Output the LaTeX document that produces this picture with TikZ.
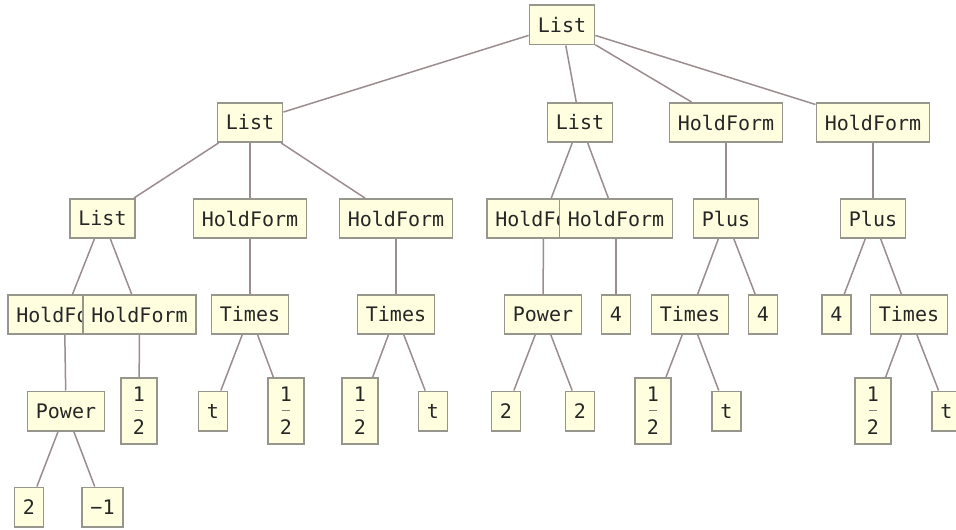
\documentclass[tikz,border=0pt]{standalone}
\usepackage{fontspec}
\newfontfamily\treefont{DejaVu Sans Mono}
\usetikzlibrary{positioning}
\definecolor{boxfill}{RGB}{255,255,224}
\definecolor{boxline}{RGB}{150,150,140}
\definecolor{edgeline}{RGB}{155,140,142}
\tikzset{
    tnode/.style={draw=boxline,fill=boxfill,line width=0.9pt,text=black!85,
        font=\treefont\fontsize{10}{12}\selectfont,
        inner xsep=4.2pt,inner ysep=0pt,minimum height=19.6pt},
    fracnode/.style={tnode,align=center,minimum width=18pt,minimum height=33pt,
        font=\treefont\fontsize{10}{8.35}\selectfont},
    branch/.style={draw=edgeline,line width=0.75pt}
}
\newcommand\halfstack{1\\\textcolor{gray}{\rule[3.6pt]{4pt}{0.6pt}}\\2}

\begin{document}
\begin{tikzpicture}[x=0.5pt,y=-0.5pt]
            \useasboundingbox (0,0) rectangle (956,529);
            % level 0 and 1
            \node[tnode] (root) at (562,25)    {List};
            \node[tnode] (l1)   at (250,122.5) {List};
            \node[tnode] (l2)   at (580,122.5) {List};
            \node[tnode] (hf3)  at (726,122.5) {HoldForm};
            \node[tnode] (hf4)  at (873,122.5) {HoldForm};
            % level 2
            \node[tnode] (l2a)   at (102.5,218.5) {List};
            \node[tnode] (hfA)   at (250,218.5)   {HoldForm};
            \node[tnode] (hfB)   at (396,218.5)   {HoldForm};
            \node[tnode] (hfC)   at (543.5,218.5) {HoldForm};
            \node[tnode] (hfD)   at (616,218.5)   {HoldForm};
            \node[tnode] (plusA) at (726,218.5)   {Plus};
            \node[tnode] (plusB) at (873,218.5)   {Plus};
            % level 3
            \node[tnode] (hfE)    at (64.5,314.5)  {HoldForm};
            \node[tnode] (hfF)    at (139.5,314.5) {HoldForm};
            \node[tnode] (timesA) at (250,314.5)   {Times};
            \node[tnode] (timesB) at (396,314.5)   {Times};
            \node[tnode] (powB)   at (543,314.5)   {Power};
            \node[tnode] (fourA)  at (616,314.5)   {4};
            \node[tnode] (timesC) at (690,314.5)   {Times};
            \node[tnode] (fourB)  at (763,314.5)   {4};
            \node[tnode] (fourC)  at (836.5,314.5) {4};
            \node[tnode] (timesD) at (909,314.5)   {Times};
            % level 4
            \node[tnode]    (powA)  at (66,411)    {Power};
            \node[fracnode] (halfA) at (139,411)   {\halfstack};
            \node[tnode]    (tA)    at (213,411)   {t};
            \node[fracnode] (halfB) at (286,411)   {\halfstack};
            \node[fracnode] (halfC) at (360,411)   {\halfstack};
            \node[tnode]    (tB)    at (433,411)   {t};
            \node[tnode]    (twoA)  at (506,411)   {2};
            \node[tnode]    (twoB)  at (580,411)   {2};
            \node[fracnode] (halfD) at (653,411)   {\halfstack};
            \node[tnode]    (tC)    at (726.5,411) {t};
            \node[fracnode] (halfE) at (873,411)   {\halfstack};
            \node[tnode]    (tD)    at (946.5,411) {t};
            % level 5
            \node[tnode] (twoC)  at (29,507)    {2};
            \node[tnode] (minus) at (102.5,507) {−1};
            \path[branch]
                (root)   edge (l1)  edge (l2)  edge (hf3)  edge (hf4)
                (l1)     edge (l2a) edge (hfA) edge (hfB)
                (l2)     edge (hfC) edge (hfD)
                (hf3)    edge (plusA)
                (hf4)    edge (plusB)
                (l2a)    edge (hfE) edge (hfF)
                (hfA)    edge (timesA)
                (hfB)    edge (timesB)
                (hfC)    edge (powB)
                (hfD)    edge (fourA)
                (plusA)  edge (timesC) edge (fourB)
                (plusB)  edge (fourC)  edge (timesD)
                (hfE)    edge (powA)
                (hfF)    edge (halfA)
                (timesA) edge (tA)    edge (halfB)
                (timesB) edge (halfC) edge (tB)
                (powB)   edge (twoA)  edge (twoB)
                (timesC) edge (halfD) edge (tC)
                (timesD) edge (halfE) edge (tD)
                (powA)   edge (twoC)  edge (minus);
        \end{tikzpicture}
\end{document}
